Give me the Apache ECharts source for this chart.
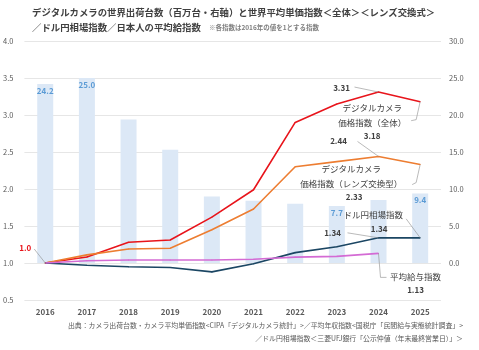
<!DOCTYPE html>
<html>
<head>
<meta charset="utf-8">
<script src="https://cdn.jsdelivr.net/npm/echarts@6/dist/echarts.min.js"></script>
<style>
html, body { margin: 0; padding: 0; background: #fff; }
#main { width: 479px; height: 350px; }
</style>
</head>
<body>
<div id="main"></div>
<script>
// データ（2016年=1 の指数、出荷台数は百万台）
var years = ['2016', '2017', '2018', '2019', '2020', '2021', '2022', '2023', '2024', '2025']
var shipments = [24.2, 25.0, 19.4, 15.3, 9.0, 8.4, 8.0, 7.7, 8.5, 9.4]
var priceAll = [1.0, 1.08, 1.28, 1.31, 1.62, 1.99, 2.90, 3.15, 3.31, 3.18]
var priceLens = [1.0, 1.11, 1.19, 1.20, 1.45, 1.73, 2.30, 2.37, 2.44, 2.33]
var usdJpy = [1.0, 0.97, 0.95, 0.94, 0.88, 0.99, 1.14, 1.22, 1.34, 1.34]
var salary = [1.0, 1.03, 1.04, 1.04, 1.04, 1.05, 1.08, 1.09, 1.13, null]
var leftTicks = [0.5, 4.0, 0.5]   // min, max, interval
var rightTicks = [-5, 30, 5]
var shownBarLabels = [0, 1, 7, 9]

var FONT = '"Noto Sans CJK JP", sans-serif'
var chart = echarts.init(document.getElementById('main'))

// ラベルの位置（点からのずれ）
var offsets = {
    0: { 0: [-20, -15], 8: [-37, -4], 9: [-48, 14] },
    1: { 8: [-40, -15], 9: [-69, 12] },
    2: { 8: [-46, -5], 9: [-47, -23] },
    3: { 8: [37, 23] }
}
// 引き出し線（点からの相対座標）
var leaders = [
    [0, 0, [[-11, -14], [0, 0]]],
    [0, 8, [[-24, -5], [0, 0]]],
    [0, 9, [[0, 0], [-4, 18], [-9, 19]]],
    [1, 8, [[-21, -15], [0, 0]]],
    [1, 9, [[0, 0], [-4, 18], [-8, 20]]],
    [2, 8, [[-31, -5], [0, 0]]],
    [2, 9, [[-14, -19], [0, 0]]],
    [3, 8, [[0, 0], [2, 24], [8, 24]]]
]

function numLabel(color) {
    return { show: true, fontSize: 8, fontWeight: 'bold', color: color || '#404040', fontFamily: FONT }
}
function nameLabel(text) {
    return { show: true, formatter: text, fontSize: 8.5, color: '#404040', fontFamily: FONT, lineHeight: 15 }
}

function lineData(arr, labels) {
    return arr.map(function (v, i) {
        if (labels[i]) return { value: v, label: labels[i] }
        return v
    })
}

function lineSeries(name, arr, color, labels, extra) {
    return {
        name: name,
        type: 'line',
        yAxisIndex: 0,
        data: lineData(arr, labels),
        symbol: 'circle',
        symbolSize: 1,
        itemStyle: { color: color },
        lineStyle: { color: color, width: 1.6 },
        label: { show: false },
        markPoint: {
            symbol: 'circle', symbolSize: 0,
            data: extra.map(function (e) {
                return { coord: [e[0], arr[e[0]]], value: e[1],
                    label: Object.assign(numLabel(), { offset: e[2], formatter: '{c}' }) }
            })
        },
        z: 3
    }
}

var l0 = {}; l0[0] = Object.assign(numLabel('#e8141b'), { formatter: '1.0' })
l0[8] = Object.assign(numLabel(), { formatter: '3.31' })
l0[9] = nameLabel('デジタルカメラ\n価格指数（全体）')
var l1 = {}; l1[8] = Object.assign(numLabel(), { formatter: '2.44' })
l1[9] = nameLabel('デジタルカメラ\n価格指数（レンズ交換型）')
var l2 = {}; l2[8] = Object.assign(numLabel(), { formatter: '1.34' })
l2[9] = nameLabel('ドル円相場指数')
var l3 = {}; l3[8] = nameLabel('平均給与指数')

var lineArrays = [priceAll, priceLens, usdJpy, salary]

chart.setOption({
    animation: false,
    textStyle: { fontFamily: FONT },
    title: {
        left: 27, top: 0,
        text: '{a|デジタルカメラの世界出荷台数（百万台・右軸）と世界平均単価指数＜全体＞＜レンズ交換式＞}\n{a|／ドル円相場指数／日本人の平均給指数}  {b|※各指数は2016年の値を1とする指数}',
        textStyle: {
            lineHeight: 15,
            rich: {
                a: { fontSize: 9.4, fontWeight: 'bold', color: '#404040', fontFamily: FONT, lineHeight: 15 },
                b: { fontSize: 6.5, color: '#7f7f7f', fontFamily: FONT, lineHeight: 15 }
            }
        }
    },
    grid: { left: 24, right: 38, top: 41, bottom: 50 },
    xAxis: {
        type: 'category',
        data: years,
        axisLine: { show: false },
        axisTick: { show: false },
        axisLabel: { color: '#595959', fontSize: 8, fontWeight: 'bold', margin: 8 }
    },
    yAxis: [
        {
            type: 'value', min: leftTicks[0], max: leftTicks[1], interval: leftTicks[2],
            axisLabel: { color: '#595959', fontSize: 7.5, margin: 11, formatter: function (v) { return v.toFixed(1) } },
            splitLine: { lineStyle: { color: '#e6e6e6', width: 1 } },
            axisLine: { show: false }, axisTick: { show: false }
        },
        {
            type: 'value', min: rightTicks[0], max: rightTicks[1], interval: rightTicks[2],
            axisLabel: { color: '#595959', fontSize: 7.5, margin: 8,
                formatter: function (v) { return v < 0 ? '' : v.toFixed(1) } },
            splitLine: { show: false },
            axisLine: { show: false }, axisTick: { show: false }
        }
    ],
    labelLayout: function (p) {
        var o = offsets[p.seriesIndex - 1]
        if (!o || !o[p.dataIndex]) return {}
        var d = o[p.dataIndex]
        return {
            x: p.rect.x + p.rect.width / 2 + d[0],
            y: p.rect.y + p.rect.height / 2 + d[1],
            align: 'center', verticalAlign: 'middle'
        }
    },
    series: [
        {
            name: '出荷台数',
            type: 'bar',
            yAxisIndex: 1,
            barWidth: 16,
            data: shipments.map(function (v, i) {
                return { value: v, label: { show: shownBarLabels.indexOf(i) >= 0 } }
            }),
            itemStyle: { color: '#dce8f6' },
            label: { position: 'insideTop', distance: 3, color: '#5b9bd5', fontSize: 8, fontWeight: 'bold',
                formatter: function (p) { return p.value.toFixed(1) } },
            z: 1
        },
        lineSeries('価格指数（全体）', priceAll, '#e8141b', l0, [[9, '3.18', [-48, 34]]]),
        lineSeries('価格指数（レンズ交換型）', priceLens, '#ed7d31', l1, [[9, '2.33', [-66, 32]]]),
        lineSeries('ドル円相場指数', usdJpy, '#1b4663', l2, [[9, '1.34', [-41, -9]]]),
        lineSeries('平均給与指数', salary, '#d46bd4', l3, [[8, '1.13', [37, 37]]])
    ]
})

// 出典と引き出し線
var graphics = [
    { type: 'text', right: 16, top: 322,
      style: { text: '出典：カメラ出荷台数・カメラ平均単価指数<CIPA「デジタルカメラ統計」>／平均年収指数<国税庁「民間給与実態統計調査」>',
               fontSize: 6.9, fill: '#595959', fontFamily: FONT } },
    { type: 'text', right: 16, top: 335,
      style: { text: '／ドル円相場指数＜三菱UFJ銀行「公示仲値（年末最終営業日）」＞',
               fontSize: 6.9, fill: '#595959', fontFamily: FONT } }
]
leaders.forEach(function (l) {
    var s = l[0], i = l[1]
    var pt = chart.convertToPixel({ seriesIndex: s + 1 }, [i, lineArrays[s][i]])
    graphics.push({
        type: 'polyline',
        shape: { points: l[2].map(function (d) { return [pt[0] + d[0], pt[1] + d[1]] }) },
        style: { stroke: '#8c8c8c', lineWidth: 0.6, fill: null },
        z: 10
    })
})
chart.setOption({ graphic: graphics })
</script>
</body>
</html>
